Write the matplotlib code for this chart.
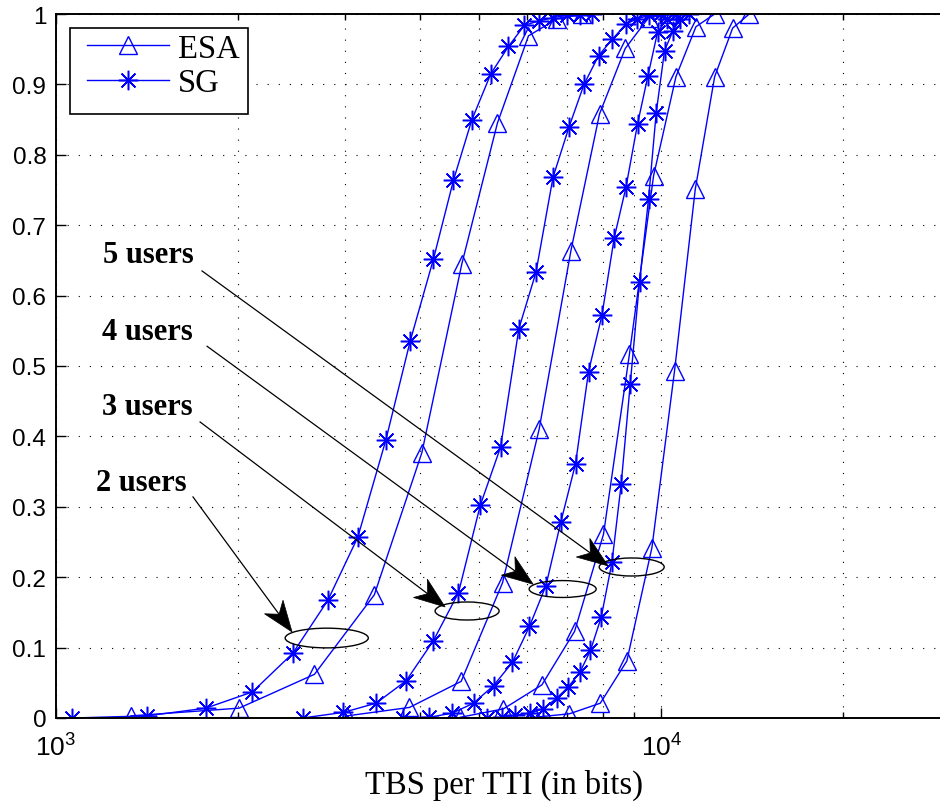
import numpy as np
import matplotlib
matplotlib.use("Agg")
import matplotlib.pyplot as plt
from matplotlib.patches import Ellipse, Polygon, Rectangle
from matplotlib.lines import Line2D
from matplotlib.transforms import IdentityTransform
from matplotlib.ticker import FixedLocator, FixedFormatter, LogLocator, NullFormatter

# ---------------- data ----------------
x_sg2 = [1063, 1412, 1768, 2111, 2462, 2812, 3153, 3508, 3847, 4204, 4537, 4862,
         5229, 5593, 5943, 6271, 6637, 6986, 7347, 7683]
y_sg2 = [0.000, 0.003, 0.014, 0.037, 0.092, 0.167, 0.257, 0.395, 0.535, 0.652,
         0.764, 0.849, 0.915, 0.954, 0.984, 0.990, 0.995, 0.998, 0.999, 1.000]

x_esa2 = [1330, 2007, 2673, 3357, 4023, 4683, 5362, 6035, 6723, 7395]
y_esa2 = [0.003, 0.014, 0.062, 0.175, 0.377, 0.645, 0.845, 0.969, 0.993, 1.000]

x_sg3 = [2556, 2985, 3379, 3790, 4204, 4624, 5023, 5428, 5818, 6209, 6625, 7038,
         7455, 7880, 8302, 8745, 9127, 9528, 9940]
y_sg3 = [0.000, 0.008, 0.021, 0.053, 0.110, 0.178, 0.302, 0.385, 0.553, 0.633,
         0.768, 0.839, 0.900, 0.941, 0.964, 0.986, 0.993, 0.998, 1.000]

x_esa3 = [3024, 3837, 4671, 5467, 6284, 7093, 7907, 8720, 9535, 10350]
y_esa3 = [0.003, 0.015, 0.052, 0.192, 0.410, 0.664, 0.858, 0.951, 0.995, 1.000]

x_sg4 = [3750, 4136, 4518, 4896, 5283, 5677, 6057, 6449, 6828, 7217, 7584, 7980,
         8362, 8745, 9139, 9506, 9860, 10219, 10588]
y_sg4 = [0.000, 0.001, 0.007, 0.021, 0.046, 0.079, 0.130, 0.188, 0.279, 0.361,
         0.492, 0.572, 0.682, 0.754, 0.844, 0.912, 0.974, 0.993, 1.000]

x_esa4 = [4654, 5487, 6350, 7191, 8028, 8861, 9712, 10576, 11413, 12254]
y_esa4 = [0.001, 0.013, 0.047, 0.123, 0.261, 0.517, 0.770, 0.911, 0.982, 1.000]

x_sg5 = [5152, 5454, 5737, 6074, 6380, 6715, 7020, 7340, 7640, 7958, 8290, 8586,
         8887, 9208, 9528, 9811, 10127, 10455, 10750, 11094]
y_sg5 = [0.000, 0.001, 0.004, 0.007, 0.013, 0.028, 0.044, 0.065, 0.096, 0.143,
         0.221, 0.332, 0.474, 0.620, 0.737, 0.860, 0.948, 0.976, 0.993, 1.000]

x_esa5 = [6175, 7054, 7930, 8774, 9652, 10519, 11382, 12254, 13122, 13981]
y_esa5 = [0.001, 0.006, 0.021, 0.081, 0.242, 0.493, 0.751, 0.911, 0.980, 1.000]

y_ticks = [0, 0.1, 0.2, 0.3, 0.4, 0.5, 0.6, 0.7, 0.8, 0.9, 1.0]
y_ticklabels = ["0", "0.1", "0.2", "0.3", "0.4", "0.5", "0.6", "0.7", "0.8", "0.9", "1"]
x_ticks = [1e3, 1e4]
x_ticklabels = [r"$\mathregular{10^{3}}$", r"$\mathregular{10^{4}}$"]

legend_labels = ["ESA", "SG"]
xlabel = "TBS per TTI (in bits)"

# annotation: label, text anchor (x, y baseline), arrow start, arrow tip, ellipse centre
ann_labels = ["2 users", "3 users", "4 users", "5 users"]
ann_text_xy = [(1164, 0.3239), (1191, 0.4318), (1191, 0.5384), (1196, 0.6477)]
ann_start_xy = [(1684, 0.314), (1730, 0.4205), (1777, 0.528), (1743, 0.635)]
ann_tip_xy = [(2455, 0.1222), (4395, 0.1577), (6143, 0.190), (8171, 0.216)]
ell_center = [(2801, 0.1136), (4778, 0.152), (6873, 0.1832), (8937, 0.2145)]
ell_size = [(0.093, 0.028), (0.0716, 0.0256), (0.075, 0.024), (0.0727, 0.0256)]

SERIF = ["Liberation Serif", "DejaVu Serif"]

# ---------------- figure ----------------
plt.rcParams["font.family"] = ["Liberation Sans", "DejaVu Sans"]
fig = plt.figure(figsize=(9.40, 8.04), dpi=100)
ax = fig.add_axes([56 / 940, 85 / 804, 894 / 940, 704 / 804])

blue = (0, 0, 1)
star = (8, 2, 0)
kw_t = dict(color=blue, lw=1.0, marker="^", ms=13.5, mfc="none", mec=blue, mew=1.0)
kw_s = dict(color=blue, lw=1.0, marker=star, ms=14, mec=blue, mew=1.1)

l1, = ax.plot(x_esa2, y_esa2, **kw_t)
l2, = ax.plot(x_sg2, y_sg2, **kw_s)
ax.plot(x_esa3, y_esa3, **kw_t)
ax.plot(x_sg3, y_sg3, **kw_s)
ax.plot(x_esa4, y_esa4, **kw_t)
ax.plot(x_sg4, y_sg4, **kw_s)
ax.plot(x_esa5, y_esa5, **kw_t)
ax.plot(x_sg5, y_sg5, **kw_s)

ax.set_xscale("log")
ax.set_xlim(1e3, 3e4)
ax.set_ylim(0, 1)

ax.xaxis.set_major_locator(FixedLocator(x_ticks))
ax.xaxis.set_major_formatter(FixedFormatter(x_ticklabels))
ax.xaxis.set_minor_locator(LogLocator(base=10, subs=range(2, 10)))
ax.xaxis.set_minor_formatter(NullFormatter())
ax.yaxis.set_major_locator(FixedLocator(y_ticks))
ax.yaxis.set_major_formatter(FixedFormatter(y_ticklabels))

ax.tick_params(axis="both", which="both", direction="in", top=True, right=True,
               width=1.0, colors="black")
ax.tick_params(axis="y", which="major", length=7, labelsize=17.5, pad=7)
ax.tick_params(axis="x", which="major", length=7, labelsize=19, pad=11)
ax.tick_params(axis="x", which="minor", length=4)

grid_kw = dict(color="black", linestyle=(0, (1, 9)), linewidth=0.8)
ax.grid(True, which="major", axis="both", **grid_kw)
ax.grid(True, which="minor", axis="x", **grid_kw)
for sp in ax.spines.values():
    sp.set_linewidth(1.4)
    sp.set_color("black")

ax.set_xlabel(xlabel, family=SERIF, fontsize=23.5, va="baseline")
ax.xaxis.set_label_coords((503.5 - 56) / 894, (719 - 794) / 704)

# legend: content without frame + a separate box
leg = ax.legend([l1, l2], legend_labels, loc="upper left",
                bbox_to_anchor=((87 - 56) / 894, (719 - 34) / 704), borderaxespad=0,
                prop={"family": SERIF, "size": 23.5},
                handlelength=2.5, numpoints=1, frameon=False,
                borderpad=0, labelspacing=0.13, handletextpad=0.28)
ax.add_patch(Rectangle(((70 - 56) / 894, (719 - 115) / 704), (248 - 70) / 894, 86 / 704,
                       transform=ax.transAxes, fill=True, fc="white", ec="black",
                       lw=1.2, zorder=4.5))
leg.set_zorder(6)

# annotations
to_axes = ax.transData + ax.transAxes.inverted()
HEAD_L, HEAD_W, NOTCH = 31.0, 11.5, 22.0   # pixels
for lab, txy, sxy, pxy, c, s in zip(ann_labels, ann_text_xy, ann_start_xy, ann_tip_xy,
                                    ell_center, ell_size):
    ax.text(txy[0], txy[1], lab, family=SERIF,
            fontsize=22, fontweight="bold", va="baseline", ha="left")
    p0 = ax.transData.transform(sxy)
    p1 = ax.transData.transform(pxy)
    d = (p1 - p0) / np.hypot(*(p1 - p0))
    n = np.array([-d[1], d[0]])
    back = p1 - NOTCH * d
    head = np.array([p1, p1 - HEAD_L * d + HEAD_W * n, back, p1 - HEAD_L * d - HEAD_W * n])
    ax.add_line(Line2D([p0[0], back[0]], [p0[1], back[1]], transform=IdentityTransform(),
                       color="black", lw=0.9, zorder=5))
    ax.add_patch(Polygon(head, closed=True, transform=IdentityTransform(),
                         fc="black", ec="black", lw=0.5, zorder=5))
    cx, cy = to_axes.transform(c)
    ax.add_patch(Ellipse((cx, cy), s[0], s[1], transform=ax.transAxes,
                         fill=False, ec="black", lw=1.0, zorder=5))

fig.savefig("out.png", dpi=100)
